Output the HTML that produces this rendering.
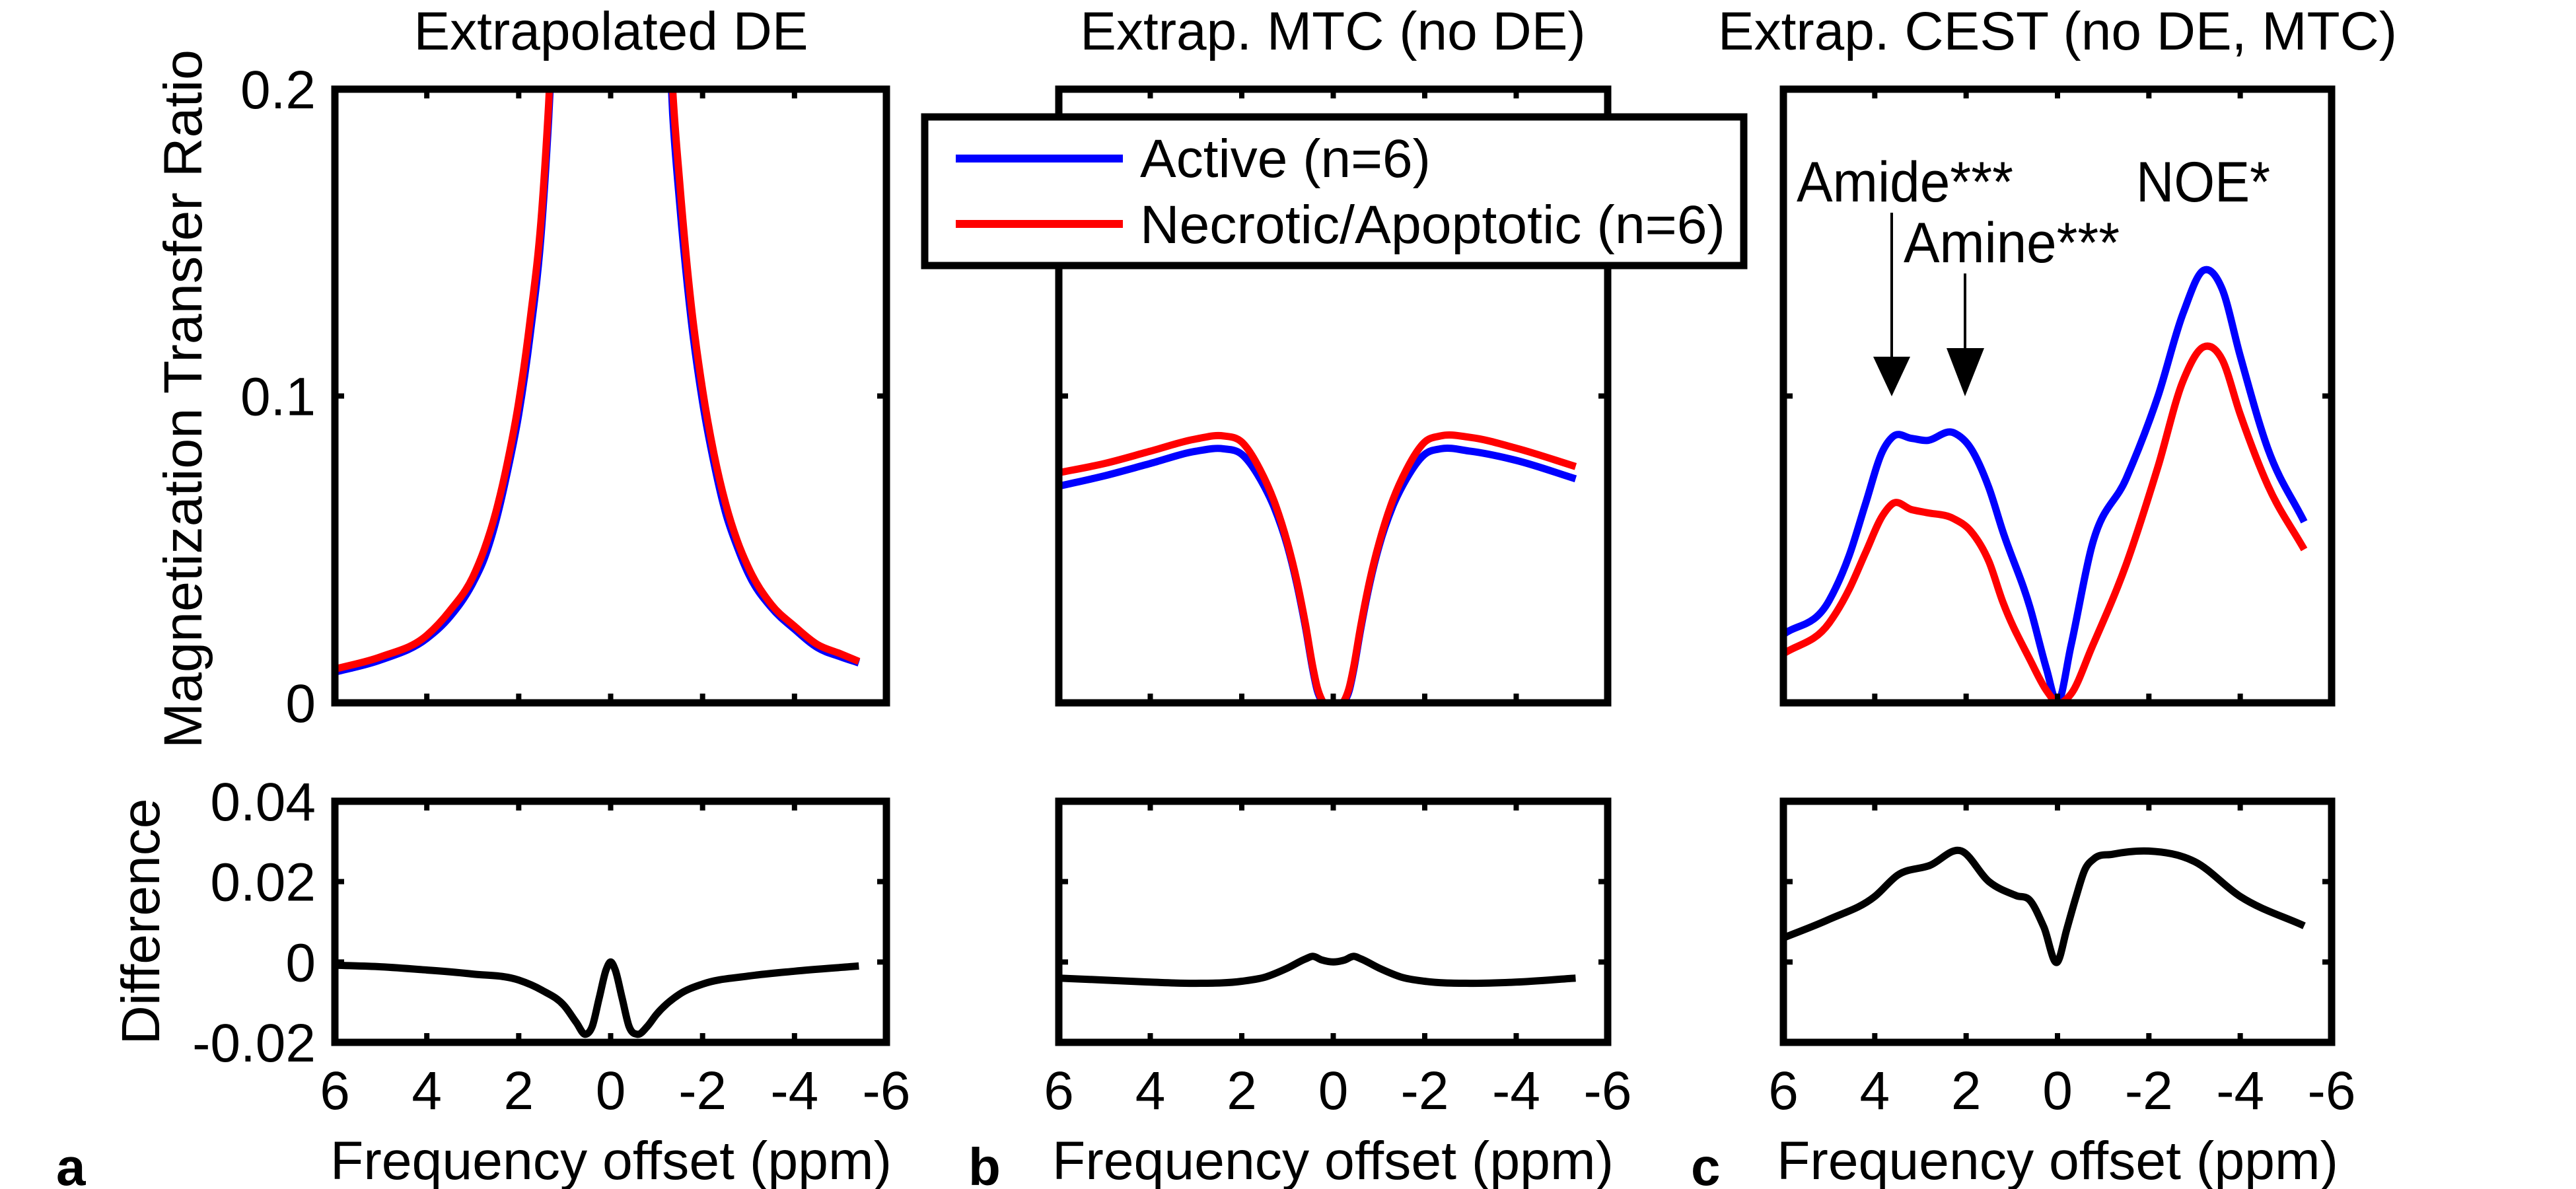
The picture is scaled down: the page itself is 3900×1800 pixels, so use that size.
<!DOCTYPE html>
<html><head><meta charset="utf-8"><style>
html,body{margin:0;padding:0;background:#fff;}
svg{display:block;font-family:"Liberation Sans",Arial,sans-serif;}
</style></head><body>
<svg id="fig" width="3900" height="1800" viewBox="0 0 3900 1800" xmlns="http://www.w3.org/2000/svg">
<rect x="0" y="0" width="3900" height="1800" fill="#fff"/>
<defs>
<clipPath id="clipA"><rect x="507" y="135" width="835" height="929"/></clipPath>
<clipPath id="clipB"><rect x="1603" y="135" width="831" height="929"/></clipPath>
<clipPath id="clipC"><rect x="2700" y="135" width="830" height="929"/></clipPath>
</defs>
<g id="marks"></g>
<g id="frames"></g>
<g id="texts" font-size="82" fill="#000">
<text x="925" y="75" text-anchor="middle">Extrapolated DE</text>
<text x="2018" y="75" text-anchor="middle">Extrap. MTC (no DE)</text>
<text x="3115" y="75" text-anchor="middle">Extrap. CEST (no DE, MTC)</text>
<text transform="translate(305,604) rotate(-90)" text-anchor="middle" textLength="1058" lengthAdjust="spacingAndGlyphs">Magnetization Transfer Ratio</text>
<text transform="translate(241,1395) rotate(-90)" text-anchor="middle" textLength="373" lengthAdjust="spacingAndGlyphs">Difference</text>
<text x="925" y="1785" text-anchor="middle" textLength="850" lengthAdjust="spacingAndGlyphs">Frequency offset (ppm)</text>
<text x="2018" y="1785" text-anchor="middle" textLength="850" lengthAdjust="spacingAndGlyphs">Frequency offset (ppm)</text>
<text x="3115" y="1785" text-anchor="middle" textLength="850" lengthAdjust="spacingAndGlyphs">Frequency offset (ppm)</text>
<text x="85" y="1794" font-weight="bold" font-size="80">a</text>
<text x="1466" y="1794" font-weight="bold" font-size="80">b</text>
<text x="2560" y="1794" font-weight="bold" font-size="80">c</text>
<text x="2720" y="305" font-size="86" textLength="328" lengthAdjust="spacingAndGlyphs">Amide***</text>
<text x="2882" y="397" font-size="86" textLength="327" lengthAdjust="spacingAndGlyphs">Amine***</text>
<text x="3234" y="305" font-size="86" textLength="203" lengthAdjust="spacingAndGlyphs">NOE*</text>
</g>
<g>
<line x1="2864" y1="322" x2="2864" y2="560" stroke="#000" stroke-width="4"/>
<polygon points="2836,540 2892,540 2864,600" fill="#000"/>
</g>
<g>
<line x1="2975" y1="414" x2="2975" y2="560" stroke="#000" stroke-width="4"/>
<polygon points="2947,527 3004,527 2975,600" fill="#000"/>
</g>
<g>
<rect x="1400" y="177" width="1240" height="225" fill="#fff" stroke="#000" stroke-width="11"/>
<line x1="1447" y1="240" x2="1700" y2="240" stroke="#0000ff" stroke-width="12"/>
<line x1="1447" y1="339" x2="1700" y2="339" stroke="#ff0000" stroke-width="12"/>
<text x="1726" y="268" font-size="82" textLength="440" lengthAdjust="spacingAndGlyphs">Active (n=6)</text>
<text x="1726" y="368" font-size="82" textLength="886" lengthAdjust="spacingAndGlyphs">Necrotic/Apoptotic (n=6)</text>
</g>
</svg>
<script>
// ---- data ----
const xTicks = [6, 4, 2, 0, -2, -4, -6];
const xTickLabels = ["6", "4", "2", "0", "-2", "-4", "-6"];
const yTopTicks = [0, 0.1, 0.2];
const yTopTickLabels = ["0", "0.1", "0.2"];
const yBotTicks = [-0.02, 0, 0.02, 0.04];
const yBotTickLabels = ["-0.02", "0", "0.02", "0.04"];

// Panel a: extrapolated DE
const deX = [6, 5, 4, 3.5, 3, 2.75, 2.5, 2.25, 2, 1.75, 1.5, 1.35, 1.2, 1.0, 0.8, -0.8, -1.0, -1.2, -1.35, -1.5, -1.75, -2, -2.25, -2.5, -2.75, -3, -3.5, -4, -4.5, -5, -5.4];
const deActive = [0.010, 0.014, 0.021, 0.028, 0.039, 0.047, 0.059, 0.075, 0.094, 0.12, 0.155, 0.19, 0.235, 0.31, 0.45, 0.45, 0.32, 0.24, 0.192, 0.163, 0.125, 0.098, 0.078, 0.062, 0.051, 0.042, 0.031, 0.024, 0.018, 0.015, 0.013];
const deNecrotic = [0.011, 0.015, 0.022, 0.030, 0.041, 0.050, 0.062, 0.078, 0.098, 0.125, 0.16, 0.195, 0.24, 0.32, 0.46, 0.46, 0.33, 0.25, 0.20, 0.17, 0.13, 0.102, 0.081, 0.065, 0.053, 0.044, 0.032, 0.025, 0.019, 0.016, 0.0135];
const deDiffX = [6, 5, 4, 3, 2, 1.5, 1.0, 0.75, 0.55, 0.4, 0.25, 0.1, 0, -0.1, -0.25, -0.4, -0.58, -0.8, -1.0, -1.5, -2, -3, -4, -5.4];
const deDiff = [-0.0008, -0.0012, -0.002, -0.003, -0.0045, -0.007, -0.011, -0.015, -0.018, -0.016, -0.009, -0.002, 0, -0.002, -0.009, -0.016, -0.018, -0.016, -0.013, -0.008, -0.0055, -0.0035, -0.0023, -0.001];

// Panel b: MTC
const mtcX = [6, 5, 4, 3, 2.4, 2, 1.6, 1.3, 1.0, 0.8, 0.6, 0.45, 0.35, 0.25, 0, -0.25, -0.35, -0.45, -0.6, -0.8, -1.0, -1.3, -1.6, -2, -2.35, -3, -4, -5.3];
const mtcActive = [0.0706, 0.074, 0.078, 0.082, 0.0828, 0.081, 0.073, 0.064, 0.051, 0.039, 0.024, 0.011, 0.004, 0.0005, 0, 0.0005, 0.004, 0.011, 0.024, 0.039, 0.051, 0.064, 0.073, 0.081, 0.0828, 0.082, 0.079, 0.073];
const mtcNecrotic = [0.075, 0.078, 0.082, 0.086, 0.087, 0.085, 0.076, 0.066, 0.052, 0.040, 0.025, 0.012, 0.005, 0.001, 0, 0.001, 0.005, 0.012, 0.025, 0.040, 0.052, 0.066, 0.076, 0.085, 0.087, 0.0865, 0.083, 0.077];
const mtcDiffX = [6, 5, 4, 3, 2, 1.5, 1.0, 0.6, 0.45, 0.25, 0, -0.25, -0.45, -0.6, -1.0, -1.5, -2, -3, -4, -5.3];
const mtcDiff = [-0.004, -0.0045, -0.005, -0.0053, -0.0048, -0.0038, -0.0015, 0.0008, 0.0014, 0.0005, 0, 0.0005, 0.0014, 0.0008, -0.0015, -0.0038, -0.0048, -0.0053, -0.005, -0.004];

// Panel c: CEST
const cestX = [6, 5, 4.56, 4.2, 3.83, 3.6, 3.2, 2.87, 2.27, 1.9, 1.5, 1.2, 0.6, 0.24, 0, -0.3, -0.75, -1.5, -2.2, -2.75, -3.2, -3.6, -4, -4.6, -5.4];
const cestActive = [0.0223, 0.0333, 0.048, 0.065, 0.082, 0.0868, 0.0862, 0.0855, 0.088, 0.083, 0.070, 0.056, 0.031, 0.011, 0, 0.019, 0.051, 0.073, 0.100, 0.127, 0.141, 0.135, 0.113, 0.083, 0.059];
const cestNecrotic = [0.016, 0.026, 0.037, 0.049, 0.061, 0.065, 0.063, 0.062, 0.060, 0.056, 0.046, 0.033, 0.014, 0.004, 0, 0.003, 0.018, 0.045, 0.077, 0.105, 0.116, 0.112, 0.094, 0.071, 0.050];
const cestDiffX = [6, 5, 4, 3.5, 2.8, 2.1, 1.5, 0.9, 0.6, 0.3, 0, -0.2, -0.4, -0.6, -0.8, -1.2, -2, -3, -4, -5.4];
const cestDiff = [0.006, 0.0106, 0.0163, 0.0216, 0.024, 0.0276, 0.020, 0.0165, 0.0153, 0.0087, 0, 0.008, 0.016, 0.023, 0.0257, 0.0268, 0.0276, 0.025, 0.0163, 0.009];

// ---- layout ----
const NS = "http://www.w3.org/2000/svg";
const panels = [
  {key: "a", L: 507, R: 1342, clip: "clipA"},
  {key: "b", L: 1603, R: 2434, clip: "clipB"},
  {key: "c", L: 2700, R: 3530, clip: "clipC"}
];
const TOP = {T: 135, B: 1064, min: 0, max: 0.2};
const BOT = {T: 1213, B: 1578, min: -0.02, max: 0.04};
function xScale(p, v) { return p.L + (6 - v) / 12 * (p.R - p.L); }
function yScale(ax, v) { return ax.B - (v - ax.min) / (ax.max - ax.min) * (ax.B - ax.T); }

function smoothPath(pts) {
  const n = pts.length, m = [];
  for (let i = 0; i < n; i++) {
    if (i === 0) m.push((pts[1][1] - pts[0][1]) / (pts[1][0] - pts[0][0]));
    else if (i === n - 1) m.push((pts[i][1] - pts[i - 1][1]) / (pts[i][0] - pts[i - 1][0]));
    else {
      const h0 = pts[i][0] - pts[i - 1][0], h1 = pts[i + 1][0] - pts[i][0];
      const d0 = (pts[i][1] - pts[i - 1][1]) / h0, d1 = (pts[i + 1][1] - pts[i][1]) / h1;
      m.push((d0 * h1 + d1 * h0) / (h0 + h1));
    }
  }
  let d = "M" + pts[0][0].toFixed(1) + "," + pts[0][1].toFixed(1);
  for (let i = 0; i < n - 1; i++) {
    const h = pts[i + 1][0] - pts[i][0];
    const c1x = pts[i][0] + h / 3, c1y = pts[i][1] + m[i] * h / 3;
    const c2x = pts[i + 1][0] - h / 3, c2y = pts[i + 1][1] - m[i + 1] * h / 3;
    d += " C" + c1x.toFixed(1) + "," + c1y.toFixed(1) + " " + c2x.toFixed(1) + "," + c2y.toFixed(1) + " " + pts[i + 1][0].toFixed(1) + "," + pts[i + 1][1].toFixed(1);
  }
  return d;
}
const marks = document.getElementById("marks");
const frames = document.getElementById("frames");
function drawLine(p, ax, xs, ys, color, name, clip) {
  const pts = xs.map((x, i) => [xScale(p, x), yScale(ax, ys[i])]);
  const path = document.createElementNS(NS, "path");
  path.setAttribute("d", smoothPath(pts));
  path.setAttribute("fill", "none");
  path.setAttribute("stroke", color);
  path.setAttribute("stroke-width", "11");
  path.setAttribute("stroke-linejoin", "round");
  if (clip) path.setAttribute("clip-path", "url(#" + clip + ")");
  
  
  marks.appendChild(path);
}
function addText(x, y, str, anchor, name) {
  const t = document.createElementNS(NS, "text");
  t.setAttribute("x", x); t.setAttribute("y", y);
  t.setAttribute("text-anchor", anchor);
  t.setAttribute("font-size", "82");
  t.textContent = str;
  
  
  frames.appendChild(t);
}
function drawFrame(p, ax, yt, ytl, showY, tag) {
  const r = document.createElementNS(NS, "rect");
  r.setAttribute("x", p.L); r.setAttribute("y", ax.T);
  r.setAttribute("width", p.R - p.L); r.setAttribute("height", ax.B - ax.T);
  r.setAttribute("fill", "none"); r.setAttribute("stroke", "#000"); r.setAttribute("stroke-width", "11");
  
  
  frames.appendChild(r);
  let d = "";
  xTicks.forEach(v => { const x = xScale(p, v); d += "M" + x + "," + ax.T + "v14M" + x + "," + ax.B + "v-14"; });
  yt.forEach(v => { const y = yScale(ax, v); d += "M" + p.L + "," + y + "h14M" + p.R + "," + y + "h-14"; });
  const tk = document.createElementNS(NS, "path");
  tk.setAttribute("d", d); tk.setAttribute("stroke", "#000"); tk.setAttribute("stroke-width", "8");
  
  
  frames.appendChild(tk);
  if (showY) yt.forEach((v, i) => addText(478, yScale(ax, v) + 29, ytl[i], "end", "y-tick-label"));
}
panels.forEach((p, k) => {
  drawFrame(p, TOP, yTopTicks, yTopTickLabels, k === 0, "top-" + p.key);
  drawFrame(p, BOT, yBotTicks, yBotTickLabels, k === 0, "bottom-" + p.key);
  xTicks.forEach((v, i) => addText(xScale(p, v), 1679, xTickLabels[i], "middle", "x-tick-label"));
});
drawLine(panels[0], TOP, deX.slice(0, 15), deActive.slice(0, 15), "#0000ff", "de-active-left", "clipA");
drawLine(panels[0], TOP, deX.slice(15), deActive.slice(15), "#0000ff", "de-active-right", "clipA");
drawLine(panels[0], TOP, deX.slice(0, 15), deNecrotic.slice(0, 15), "#ff0000", "de-necrotic-left", "clipA");
drawLine(panels[0], TOP, deX.slice(15), deNecrotic.slice(15), "#ff0000", "de-necrotic-right", "clipA");
drawLine(panels[0], BOT, deDiffX, deDiff, "#000", "de-difference", null);
drawLine(panels[1], TOP, mtcX, mtcActive, "#0000ff", "mtc-active", "clipB");
drawLine(panels[1], TOP, mtcX, mtcNecrotic, "#ff0000", "mtc-necrotic", "clipB");
drawLine(panels[1], BOT, mtcDiffX, mtcDiff, "#000", "mtc-difference", null);
drawLine(panels[2], TOP, cestX, cestActive, "#0000ff", "cest-active", "clipC");
drawLine(panels[2], TOP, cestX, cestNecrotic, "#ff0000", "cest-necrotic", "clipC");
drawLine(panels[2], BOT, cestDiffX, cestDiff, "#000", "cest-difference", null);
</script>
</body></html>
